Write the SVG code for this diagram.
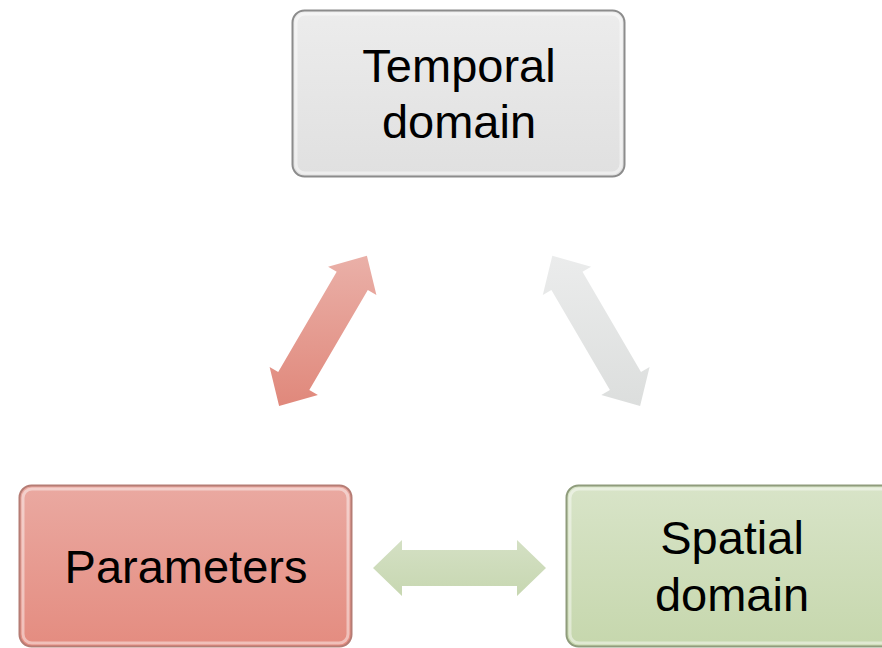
<svg xmlns="http://www.w3.org/2000/svg" width="882" height="648" viewBox="0 0 882 648">
  <style>
    .lbl { font-family: "Liberation Sans", Arial, sans-serif; font-size: 47px; fill: #000; text-anchor: middle; }
    .gloss { fill: none; stroke: #ffffff; stroke-opacity: 0.45; stroke-width: 3; }
  </style>
  <defs>
    <linearGradient id="gGray" x1="0" y1="0" x2="0" y2="1">
      <stop offset="0" stop-color="#ececec"/>
      <stop offset="1" stop-color="#e0e0e0"/>
    </linearGradient>
    <linearGradient id="gRed" x1="0" y1="0" x2="0" y2="1">
      <stop offset="0" stop-color="#eaa9a1"/>
      <stop offset="1" stop-color="#e48c80"/>
    </linearGradient>
    <linearGradient id="gGreen" x1="0" y1="0" x2="0" y2="1">
      <stop offset="0" stop-color="#d8e4c8"/>
      <stop offset="1" stop-color="#c6d7ad"/>
    </linearGradient>
    <linearGradient id="aRed" x1="0" y1="0" x2="0" y2="1">
      <stop offset="0" stop-color="#eab0a8"/>
      <stop offset="1" stop-color="#e0887b"/>
    </linearGradient>
    <linearGradient id="aGray" x1="0" y1="0" x2="0" y2="1">
      <stop offset="0" stop-color="#ebecec"/>
      <stop offset="1" stop-color="#dcdedd"/>
    </linearGradient>
    <linearGradient id="aGreen" x1="0" y1="0" x2="0" y2="1">
      <stop offset="0" stop-color="#d4e0c4"/>
      <stop offset="1" stop-color="#c7d7b1"/>
    </linearGradient>
  </defs>

  <g id="connectors">
    <polygon fill="url(#aRed)" points="279.1,406.0 269.6,366.9 278.2,371.9 336.7,271.7 328.1,266.7 366.9,255.8 376.4,295.0 367.8,289.9 309.3,390.1 317.9,395.1"/>
    <polygon fill="url(#aGray)" points="640.1,406.0 649.6,366.9 641.0,371.9 582.5,271.7 591.1,266.7 552.3,255.8 542.8,295.0 551.4,289.9 609.9,390.1 601.3,395.1"/>
    <polygon fill="url(#aGreen)" points="373,568 402,540 402,550 517,550 517,540 546,568 517,596 517,586 402,586 402,596"/>
  </g>

  <g id="temporal">
    <rect x="292.5" y="10.5" width="332" height="166" rx="12" fill="url(#gGray)" stroke="#8c8c8c" stroke-width="2"/>
    <rect x="296" y="14" width="325" height="159" rx="9" class="gloss"/>
    <text class="lbl" x="459" y="82">Temporal</text>
    <text class="lbl" x="459" y="138">domain</text>
  </g>

  <g id="parameters">
    <rect x="19.5" y="485.5" width="332" height="161" rx="12" fill="url(#gRed)" stroke="#b57c74" stroke-width="2"/>
    <rect x="23" y="489" width="325" height="154" rx="9" class="gloss" stroke-opacity="0.3"/>
    <text class="lbl" x="186" y="583">Parameters</text>
  </g>

  <g id="spatial">
    <rect x="566.5" y="485.5" width="332" height="161" rx="12" fill="url(#gGreen)" stroke="#8f9c7c" stroke-width="2"/>
    <rect x="570" y="489" width="325" height="154" rx="9" class="gloss" stroke-opacity="0.35"/>
    <text class="lbl" x="732" y="554">Spatial</text>
    <text class="lbl" x="732" y="611">domain</text>
  </g>
</svg>
